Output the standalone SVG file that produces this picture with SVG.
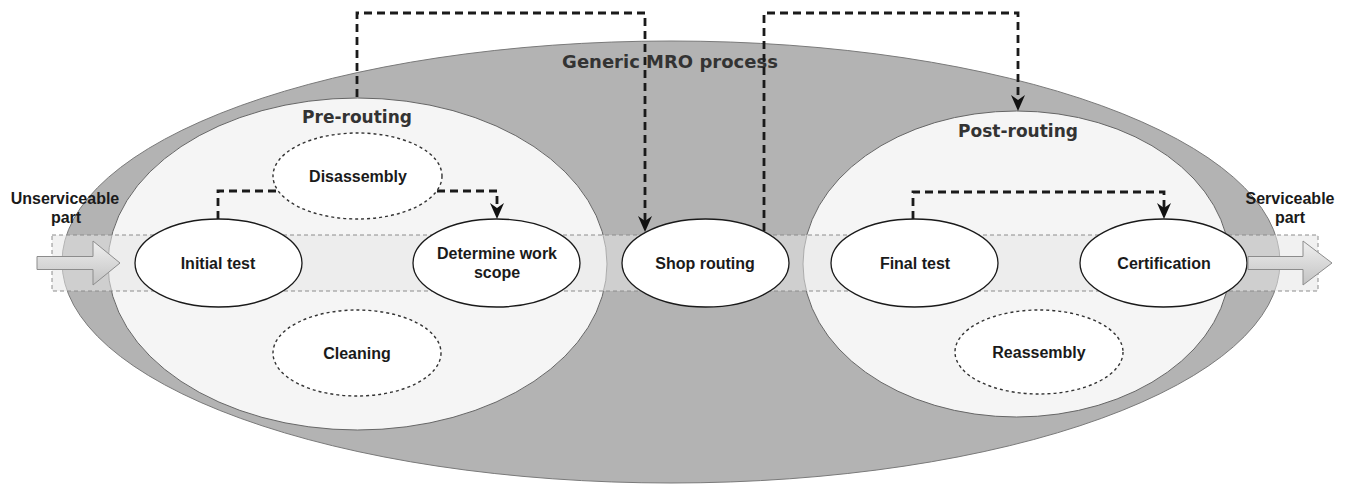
<svg xmlns="http://www.w3.org/2000/svg" width="1349" height="486" viewBox="0 0 1349 486">
  <style>
    .outer { fill: #b3b3b3; stroke: #7a7a7a; stroke-width: 1; }
    .phase { fill: #f5f5f5; stroke: #666666; stroke-width: 1; }
    .phase-label { font-family: "DejaVu Sans", Verdana, sans-serif; font-weight: bold; fill: #333333; text-anchor: middle; }
    .band { fill: #e6e6e6; fill-opacity: 0.55; stroke: #8c8c8c; stroke-width: 1; stroke-dasharray: 4 3; }
    .step { fill: #ffffff; stroke: #1a1a1a; stroke-width: 1.3; }
    .optional { fill: #ffffff; stroke: #333333; stroke-width: 1.4; stroke-dasharray: 3 3; }
    .label { font-family: "Liberation Sans", Arial, sans-serif; font-weight: bold; font-size: 16px; fill: #1a1a1a; text-anchor: middle; }
    .flow { fill: none; stroke: #1a1a1a; stroke-width: 2.8; stroke-dasharray: 8 5; marker-end: url(#head); }
    .io { fill: url(#ioGrad); stroke: #8c8c8c; stroke-width: 1; }
  </style>
  <defs>
    <marker id="head" markerUnits="userSpaceOnUse" viewBox="0 0 16 14" refX="5" refY="7" markerWidth="16" markerHeight="14" orient="auto">
      <path d="M0,0 L16,7 L0,14 L5,7 Z" fill="#111111"/>
    </marker>
    <linearGradient id="ioGrad" x1="0" y1="0" x2="0" y2="1">
      <stop offset="0" stop-color="#f0f0f0"/>
      <stop offset="1" stop-color="#c2c2c2"/>
    </linearGradient>
  </defs>

  <!-- overall process container -->
  <g id="generic-mro">
    <ellipse class="outer" cx="671" cy="262" rx="609" ry="221"/>
    <text class="phase-label" x="670" y="68" font-size="18">Generic MRO process</text>
  </g>

  <g id="pre-routing">
    <ellipse class="phase" cx="357.5" cy="264" rx="249.5" ry="166"/>
    <text class="phase-label" x="357" y="123" font-size="17">Pre-routing</text>
  </g>

  <g id="post-routing">
    <ellipse class="phase" cx="1016.5" cy="264" rx="213.5" ry="153"/>
    <text class="phase-label" x="1018" y="137" font-size="17">Post-routing</text>
  </g>

  <!-- main flow lane -->
  <rect id="flow-lane" class="band" x="52" y="235" width="1266" height="56"/>

  <g id="connectors">
    <path class="flow" d="M218,219 V191 H497 V208"/>
    <path class="flow" d="M357,97 V13 H645 V221"/>
    <path class="flow" d="M764,231 V13 H1018 V100"/>
    <path class="flow" d="M913,219 V192 H1164 V208"/>
  </g>

  <g id="disassembly">
    <ellipse class="optional" cx="357.5" cy="176" rx="84.5" ry="43"/>
    <text class="label" x="358" y="182">Disassembly</text>
  </g>
  <g id="cleaning">
    <ellipse class="optional" cx="357" cy="353" rx="84" ry="43"/>
    <text class="label" x="357" y="359">Cleaning</text>
  </g>
  <g id="reassembly">
    <ellipse class="optional" cx="1039" cy="352" rx="84" ry="42"/>
    <text class="label" x="1039" y="358">Reassembly</text>
  </g>

  <g id="initial-test">
    <ellipse class="step" cx="218.5" cy="263" rx="83.5" ry="44"/>
    <text class="label" x="218" y="269">Initial test</text>
  </g>
  <g id="determine-work-scope">
    <ellipse class="step" cx="496.5" cy="263" rx="83.5" ry="44"/>
    <text class="label" x="497" y="259">Determine work</text>
    <text class="label" x="497" y="278">scope</text>
  </g>
  <g id="shop-routing">
    <ellipse class="step" cx="705.5" cy="263" rx="83.5" ry="44"/>
    <text class="label" x="705" y="269">Shop routing</text>
  </g>
  <g id="final-test">
    <ellipse class="step" cx="914.5" cy="263" rx="83.5" ry="44"/>
    <text class="label" x="915" y="269">Final test</text>
  </g>
  <g id="certification">
    <ellipse class="step" cx="1163.5" cy="263" rx="83.5" ry="44"/>
    <text class="label" x="1164" y="269">Certification</text>
  </g>

  <g id="unserviceable-part">
    <path class="io" d="M37,256.5 H93 V241 L120,263 L93,285 V269.5 H37 Z"/>
    <text class="label" x="65" y="204">Unserviceable</text>
    <text class="label" x="66" y="223">part</text>
  </g>
  <g id="serviceable-part">
    <path class="io" d="M1248,256.5 H1303 V241 L1332,263 L1303,285 V269.5 H1248 Z"/>
    <text class="label" x="1290" y="204">Serviceable</text>
    <text class="label" x="1290" y="223">part</text>
  </g>
</svg>
